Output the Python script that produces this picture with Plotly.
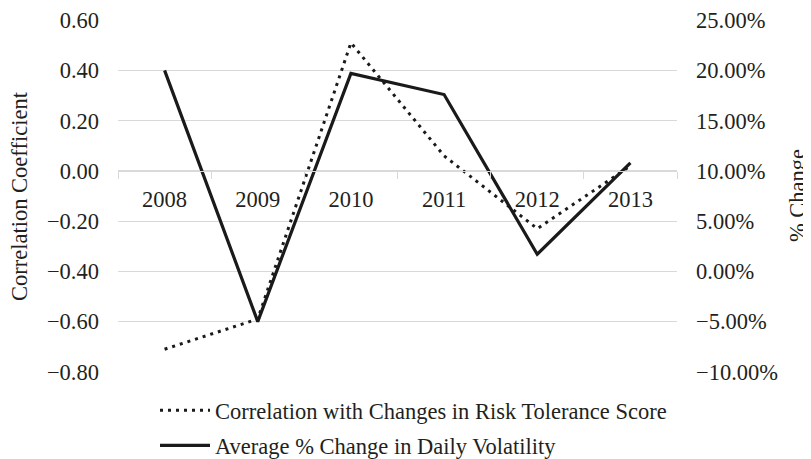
import plotly.graph_objects as go

years = ["2008", "2009", "2010", "2011", "2012", "2013"]
correlation = [-0.71, -0.59, 0.51, 0.06, -0.23, 0.02]
volatility_change = [0.20, -0.05, 0.197, 0.176, 0.017, 0.108]

left_ticks = [0.6, 0.4, 0.2, 0.0, -0.2, -0.4, -0.6, -0.8]
right_ticks = [0.25, 0.20, 0.15, 0.10, 0.05, 0.0, -0.05, -0.10]

FONT = "Liberation Serif, Times New Roman, serif"
TXT = "#231f20"
GRID = "#d9d9d9"
FS = 22.5

# page body has an 8px default margin, so the figure is 8px smaller
W, H = 803, 451
PL, PR, PT, PB = 110, 669, 12, 364   # plot area in figure pixels
PW, PH = PR - PL, PB - PT

EPS = 0.0008
y1_range = [-0.8 - EPS, 0.6 + EPS]
y2_range = [-0.10 - EPS / 4, 0.25 + EPS / 4]

fig = go.Figure()
fig.add_trace(go.Scatter(
    x=years, y=correlation, mode="lines", yaxis="y",
    name="Correlation with Changes in Risk Tolerance Score",
    line=dict(color="#1a1a1a", width=3, dash="3px,5px"),
    legendgroup="a",
))
fig.add_trace(go.Scatter(
    x=years, y=volatility_change, mode="lines", yaxis="y2",
    name="Average % Change in Daily Volatility",
    line=dict(color="#1a1a1a", width=3.2),
    legendgroup="b",
))

fig.update_layout(
    width=W, height=H,
    margin=dict(l=PL, r=W - PR, t=PT, b=H - PB, autoexpand=False),
    paper_bgcolor="white", plot_bgcolor="white",
    font=dict(family=FONT, size=FS, color=TXT),
    showlegend=True,
    legend=dict(
        x=(147 - PL) / PW, y=-(381 - PB) / PH, xanchor="left", yanchor="top",
        orientation="v", tracegroupgap=3, itemwidth=50,
        font=dict(family=FONT, size=FS, color=TXT),
        bgcolor="rgba(0,0,0,0)",
    ),
    xaxis=dict(
        type="category", anchor="free",
        position=(0 - y1_range[0]) / (y1_range[1] - y1_range[0]),
        range=[-0.5, 5.5],
        showgrid=False, showline=True, linecolor=GRID, linewidth=1,
        ticks="outside", tickson="boundaries", ticklen=7, tickcolor=GRID,
        tickfont=dict(family=FONT, size=FS, color=TXT),
        ticklabelstandoff=8, automargin=False,
        fixedrange=True,
    ),
    yaxis=dict(
        range=y1_range, tickvals=left_ticks, tickformat=".2f",
        showgrid=True, gridcolor=GRID, gridwidth=1, zeroline=False,
        showline=False, ticks="", ticklabelstandoff=18, automargin=False,
        tickfont=dict(family=FONT, size=FS, color=TXT),
        domain=[0, 1],
    ),
    yaxis2=dict(
        range=y2_range, tickvals=right_ticks, tickformat=".2%",
        overlaying="y", side="right", showgrid=False, zeroline=False,
        showline=False, ticks="", ticklabelstandoff=18, automargin=False,
        tickfont=dict(family=FONT, size=FS, color=TXT),
    ),
    annotations=[
        dict(text="Correlation Coefficient", xref="paper", yref="paper",
             x=(11 - PL) / PW, y=0.5, xanchor="center", yanchor="middle",
             textangle=-90, showarrow=False,
             font=dict(family=FONT, size=FS, color=TXT)),
        dict(text="% Change", xref="paper", yref="paper",
             x=(789 - PL) / PW, y=0.5, xanchor="center", yanchor="middle",
             textangle=-90, showarrow=False,
             font=dict(family=FONT, size=FS, color=TXT)),
    ],
)

fig.write_html("out.html")
